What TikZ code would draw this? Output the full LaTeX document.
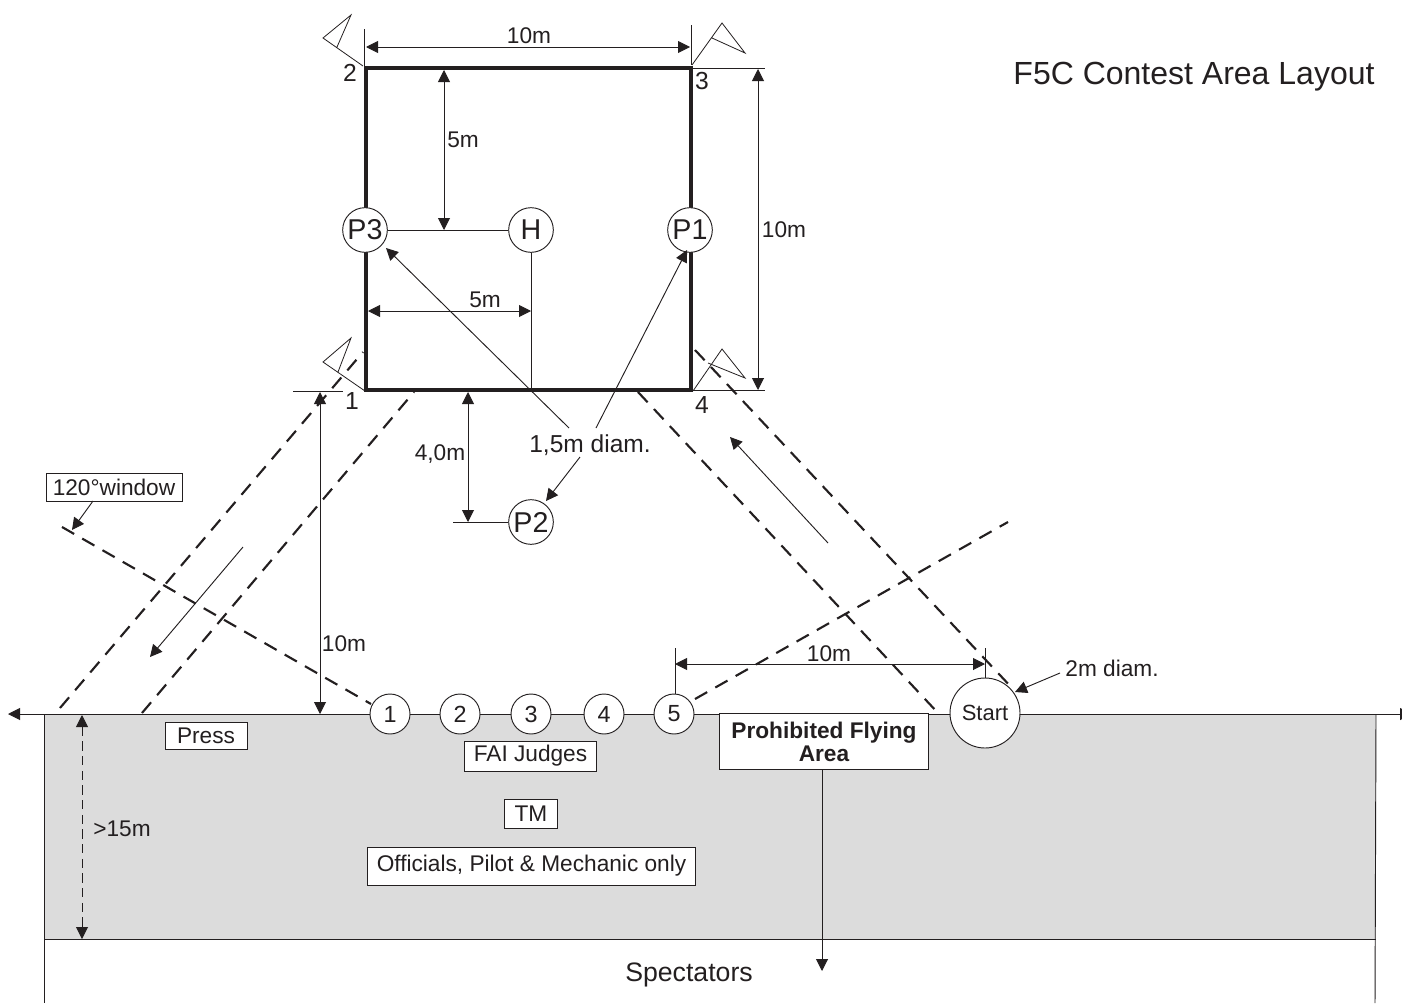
\documentclass[tikz,border=0pt]{standalone}
\usepackage{fontspec}
\setmainfont{Liberation Sans}
\usetikzlibrary{arrows.meta}
\definecolor{inkc}{HTML}{231F20}
\definecolor{zone}{HTML}{DCDCDC}
\tikzset{
  x=0.75pt,y=-0.75pt,
  tipm/.tip={Triangle[length=9pt,width=9pt]},
  thinl/.style={draw=inkc,line width=0.7pt},
  dim/.style={thinl,tipm-tipm},
  lead/.style={thinl,-tipm},
  win/.style={draw=inkc,line width=1.6pt,dash pattern=on 10.5pt off 7pt},
  flagl/.style={draw=inkc,line width=0.6pt},
  lbl/.style={text=inkc,font=\fontsize{17}{20}\selectfont,inner sep=0pt},
  pcirc/.style={circle,draw=inkc,fill=white,line width=0.7pt,inner sep=0pt,text=inkc,minimum size=33.5pt,font=\fontsize{21.5}{24}\selectfont},
  jcirc/.style={circle,draw=inkc,fill=white,line width=0.7pt,inner sep=0pt,text=inkc,minimum size=30pt,font=\fontsize{17.5}{20}\selectfont},
  tagbox/.style={rectangle,draw=inkc,fill=white,line width=0.6pt,inner sep=0pt,text=inkc,font=\fontsize{17}{20}\selectfont},
}
\begin{document}
\begin{tikzpicture}
\useasboundingbox (0,0) rectangle (1402,1003);
% contest zone
\path[fill=zone] (44,714) rectangle (1376,939);
\coordinate (zl) at (44,714); \coordinate (zr) at (1376,714);
\coordinate (zbl) at (44,939); \coordinate (zbr) at (1376,939);
\coordinate (el) at (44,1003); \coordinate (er) at (1375,1003);
\draw[thinl] (zl) -- (el);
\draw[thinl] (zr) -- (er);
\draw[thinl] (zbl) -- (zbr);
\coordinate (axl) at (8,714); \coordinate (axr) at (1412,714);
\draw[dim] (axl) -- (axr);

% window lines
\coordinate (a1) at (60,708); \coordinate (a2) at (363,352);
\coordinate (b1) at (142,713); \coordinate (b2) at (414,392);
\coordinate (c1) at (62,527); \coordinate (c2) at (371,704);
\coordinate (d1) at (695,699); \coordinate (d2) at (1008,522);
\coordinate (e1) at (638,392); \coordinate (e2) at (938,713);
\coordinate (f1) at (695,350); \coordinate (f2) at (1013,689);
\draw[win] (a1) -- (a2);
\draw[win] (b1) -- (b2);
\draw[win] (c1) -- (c2);
\draw[win] (d1) -- (d2);
\draw[win] (e1) -- (e2);
\draw[win] (f1) -- (f2);

% square corners
\coordinate (s2) at (366,68); \coordinate (s3) at (691,68);
\coordinate (s4) at (691,390); \coordinate (s1) at (366,390);

% flags
\coordinate (f2a) at (363,66); \coordinate (f2b) at (323,38); \coordinate (f2c) at (351,15); \coordinate (f2d) at (337,47);
\draw[flagl] (f2a) -- (f2b) -- (f2c) -- (f2d);
\coordinate (f3a) at (692,65); \coordinate (f3b) at (722,23); \coordinate (f3c) at (745,53); \coordinate (f3d) at (712,38);
\draw[flagl] (f3a) -- (f3b) -- (f3c) -- (f3d);
\coordinate (f1a) at (365,391); \coordinate (f1b) at (323,362); \coordinate (f1c) at (351,338); \coordinate (f1d) at (338,372);
\draw[flagl] (f1a) -- (f1b) -- (f1c) -- (f1d);
\coordinate (f4a) at (693,391); \coordinate (f4b) at (722,349); \coordinate (f4c) at (745,378); \coordinate (f4d) at (708,363);
\draw[flagl] (f4a) -- (f4b) -- (f4c) -- (f4d);

% witness lines
\coordinate (w2t) at (364,29); \coordinate (w2b) at (364,66);
\coordinate (w3t) at (691,25); \coordinate (w3b) at (691,65);
\draw[thinl] (w2t) -- (w2b);
\draw[thinl] (w3t) -- (w3b);
\coordinate (w3r) at (765,68); \coordinate (w4r) at (765,390);
\draw[thinl] (s3) -- (w3r);
\draw[thinl] (s4) -- (w4r);
\coordinate (w1l) at (293,391); \coordinate (w1r) at (343,391);
\draw[thinl] (w1l) -- (w1r);

% dimensions
\coordinate (d10tl) at (366,47); \coordinate (d10tr) at (690,47);
\draw[dim] (d10tl) -- (d10tr);
\coordinate (d10rt) at (758,69); \coordinate (d10rb) at (758,390);
\draw[dim] (d10rt) -- (d10rb);
\coordinate (d5t) at (444,70); \coordinate (d5b) at (444,230);
\draw[dim] (d5t) -- (d5b);
\coordinate (d5l) at (368,311); \coordinate (d5r) at (531,311);
\draw[dim] (d5l) -- (d5r);
\coordinate (d4t) at (468,392); \coordinate (d4b) at (468,522);
\draw[dim] (d4t) -- (d4b);
\coordinate (d10lt) at (320,392); \coordinate (d10lb) at (320,714);
\draw[dim] (d10lt) -- (d10lb);
\coordinate (d15t) at (82,715); \coordinate (d15b) at (82,939);
\draw[thinl,dash pattern=on 7pt off 4pt,tipm-tipm] (d15t) -- (d15b);

% thick square
\draw[draw=inkc,line width=3pt,line join=miter] (s2) -- (s3) -- (s4) -- (s1) -- cycle;

% pylons
\node[pcirc] (p3) at (365,230) {P3};
\node[pcirc] (h) at (531,230) {H};
\node[pcirc] (p1) at (690,230) {P1};
\node[pcirc] (p2) at (531,522) {P2};
\coordinate (hb) at (531,390);
\coordinate (p2w) at (453,522);
\draw[thinl] (p3) -- (h);
\draw[thinl] (h) -- (hb);
\draw[thinl] (p2w) -- (p2);

% judges
\node[jcirc] (j1) at (390,714) {1};
\node[jcirc] (j2) at (460,714) {2};
\node[jcirc] (j3) at (531,714) {3};
\node[jcirc] (j4) at (604,714) {4};
\node[jcirc] (j5) at (674,714) {5};
\node[circle,draw=inkc,fill=white,line width=0.7pt,inner sep=0pt,minimum size=52.5pt,text=inkc,font=\fontsize{16.5}{19}\selectfont] (st) at (985,713) {Start};

% bottom 10m
\coordinate (w5t) at (675,648); \coordinate (w5b) at (675,694);
\coordinate (wst) at (985,648);
\draw[thinl] (w5t) -- (w5b);
\draw[thinl] (wst) -- (st);
\coordinate (b10l) at (675,664); \coordinate (b10r) at (985,664);
\draw[dim] (b10l) -- (b10r);

% leaders
\coordinate (l1) at (569,428); \coordinate (l1e) at (386,248);
\draw[lead] (l1) -- (l1e);
\coordinate (l2) at (596,428); \coordinate (l2e) at (687,250);
\draw[lead] (l2) -- (l2e);
\coordinate (l3) at (580,457); \coordinate (l3e) at (546,501);
\draw[lead] (l3) -- (l3e);
\coordinate (g1) at (243,547); \coordinate (g1e) at (150,657);
\draw[lead] (g1) -- (g1e);
\coordinate (g2) at (828,543); \coordinate (g2e) at (730,437);
\draw[lead] (g2) -- (g2e);
\coordinate (m1) at (1060,673); \coordinate (m1e) at (1015,692);
\draw[lead] (m1) -- (m1e);

% boxes
\node[tagbox,minimum width=102pt,minimum height=21pt] (win120) at (114,487) {120°window};
\coordinate (win120a) at (93,501); \coordinate (win120e) at (72,530);
\draw[lead] (win120a) -- (win120e);
\node[tagbox,minimum width=61.5pt,minimum height=20pt] (press) at (206,736) {Press};
\node[tagbox,minimum width=99pt,minimum height=22.5pt] (fai) at (530.5,756) {FAI Judges};
\node[tagbox,minimum width=40pt,minimum height=21.5pt] (tm) at (531,814) {TM};
\node[tagbox,minimum width=246pt,minimum height=28.5pt] (off) at (531.5,866) {Officials, Pilot \& Mechanic only};
\node[tagbox,minimum width=156.5pt,minimum height=41.5pt,align=center,font=\fontsize{17}{17.2}\selectfont\bfseries] (proh) at (824,741.5) {Prohibited Flying\\Area};
\coordinate (prohb) at (822,770); \coordinate (prohe) at (822,971);
\draw[lead] (prohb) -- (prohe);

% labels
\node[lbl] (t10top) at (529,36) {10m};
\node[lbl] (t10r) at (784,230) {10m};
\node[lbl] (t5v) at (463,140) {5m};
\node[lbl] (t5h) at (485,300) {5m};
\node[lbl,font=\fontsize{18.4}{20}\selectfont] (t15) at (590,445) {1,5m diam.};
\node[lbl] (t40) at (440,454) {4,0m};
\node[lbl] (t10l) at (344,644) {10m};
\node[lbl] (t10b) at (829,654) {10m};
\node[lbl] (t2m) at (1112,668) {2m diam.};
\node[lbl] (t15m) at (122,829) {>15m};
\node[lbl,font=\fontsize{20}{24}\selectfont] (tsp) at (689,975) {Spectators};
\node[lbl,font=\fontsize{18.5}{20}\selectfont] (c2n) at (350,73) {2};
\node[lbl,font=\fontsize{18.5}{20}\selectfont] (c3n) at (702,81) {3};
\node[lbl,font=\fontsize{18.5}{20}\selectfont] (c1n) at (352,401) {1};
\node[lbl,font=\fontsize{18.5}{20}\selectfont] (c4n) at (702,405) {4};
\node[lbl,font=\fontsize{24}{28}\selectfont] (title) at (1194,77) {F5C Contest Area Layout};
\end{tikzpicture}
\end{document}
